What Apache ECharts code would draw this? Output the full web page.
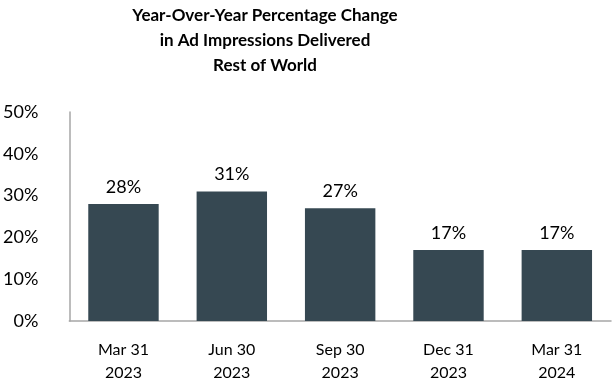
<!DOCTYPE html>
<html><head><meta charset="utf-8">
<script src="https://cdn.jsdelivr.net/npm/echarts@6/dist/echarts.min.js"></script>
<style>html,body{margin:0;padding:0;background:#fff}#c{width:614px;height:384px}</style>
</head><body><div id="c"></div>
<script>
const categories = ["Mar 31\n2023", "Jun 30\n2023", "Sep 30\n2023", "Dec 31\n2023", "Mar 31\n2024"];
const values = [28, 31, 27, 17, 17];
const titleText = "Year-Over-Year Percentage Change\nin Ad Impressions Delivered\nRest of World";
const FONT = "Lato, 'Open Sans', sans-serif";
const chart = echarts.init(document.getElementById('c'), null, {renderer: 'canvas'});
chart.setOption({
  animation: false,
  title: {
    text: titleText, left: 260, top: -2, textAlign: 'center',
    textStyle: {fontFamily: FONT, fontWeight: 'bold', fontSize: 17, lineHeight: 25, color: '#000'}
  },
  grid: {left: 69, right: 3, top: 112, bottom: 63, containLabel: false},
  xAxis: {
    type: 'category', data: categories,
    axisLine: {show: true, lineStyle: {color: '#A6A6A6', width: 1.5}},
    axisTick: {show: false},
    axisLabel: {fontFamily: FONT, fontSize: 16, lineHeight: 23, color: '#000', margin: 17}
  },
  yAxis: {
    type: 'value', min: 0, max: 50, interval: 10,
    axisLine: {show: true, lineStyle: {color: '#A6A6A6', width: 1.5}},
    axisTick: {show: false},
    splitLine: {show: false},
    axisLabel: {fontFamily: FONT, fontSize: 18, color: '#000', margin: 31, formatter: '{value}%'}
  },
  series: [{
    type: 'bar', data: values, barWidth: '65%',
    itemStyle: {color: '#364852'},
    label: {show: true, position: 'top', distance: 8, formatter: '{c}%', fontFamily: FONT, fontSize: 18, color: '#000'}
  }]
});
</script></body></html>
